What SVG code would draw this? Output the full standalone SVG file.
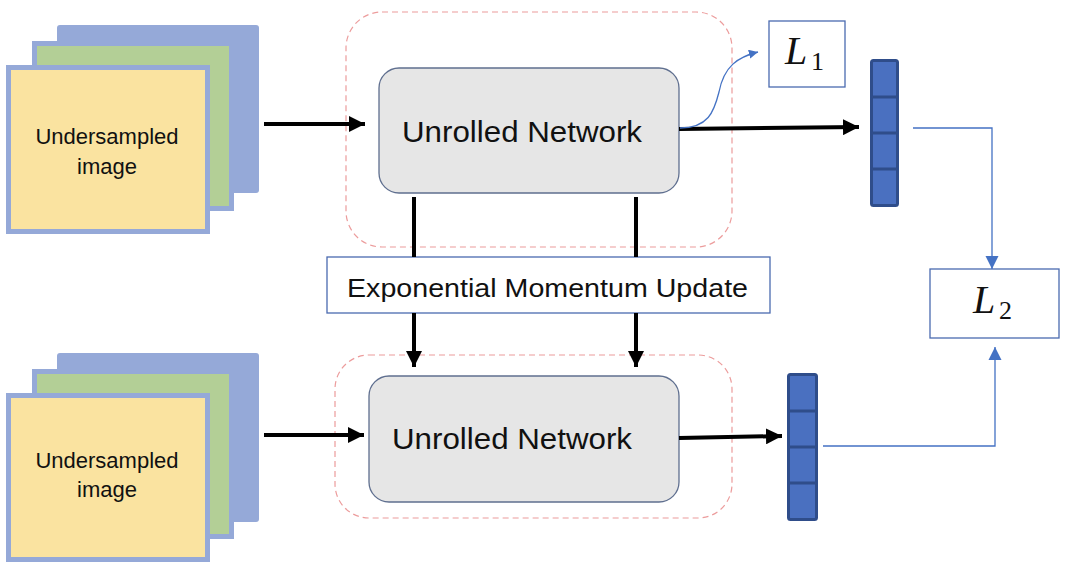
<svg xmlns="http://www.w3.org/2000/svg" width="1068" height="570" viewBox="0 0 1068 570">
<style>
.back{fill:#95A9D8;}
.mid{fill:#B3CF96;stroke:#95A9D8;stroke-width:5;}
.front{fill:#FAE3A0;stroke:#95A9D8;stroke-width:5;}
.lbl{font-family:"Liberation Sans",Arial,sans-serif;fill:#111;}
.net{fill:#E6E6E6;stroke:#5F6F8F;stroke-width:1.3;}
.dash{fill:none;stroke:#EC9C9C;stroke-width:1.2;stroke-dasharray:6 4;}
.box{fill:#fff;stroke:#4A6AB0;stroke-width:1.3;}
.vec{fill:#4A70C0;stroke:#2F4D8A;stroke-width:3;}
.blk{stroke:#000;stroke-width:4;fill:none;}
.blu{stroke:#4472C4;stroke-width:1.3;fill:none;}
.math{font-family:"Liberation Serif","Times New Roman",serif;fill:#111;}
</style>
<defs>
<marker id="ab" viewBox="0 0 10 10" refX="10" refY="5" markerWidth="4" markerHeight="4" orient="auto" markerUnits="strokeWidth">
<path d="M0,0 L10,5 L0,10 Z" fill="#000"/>
</marker>
<marker id="au" viewBox="0 0 10 10" refX="10" refY="5" markerWidth="10" markerHeight="11" orient="auto" markerUnits="strokeWidth">
<path d="M0,0 L10,5 L0,10 Z" fill="#4472C4"/>
</marker>
<marker id="as" viewBox="0 0 10 10" refX="10" refY="5" markerWidth="7" markerHeight="7" orient="auto" markerUnits="strokeWidth">
<path d="M0,0 L10,5 L0,10 Z" fill="#4472C4"/>
</marker>
</defs>

<g id="stack-top">
<rect class="back" x="57" y="25" width="202" height="168" rx="3"/>
<rect class="mid" x="34.5" y="43.5" width="197" height="165"/>
<rect class="front" x="8.5" y="67.5" width="199" height="164"/>
<text class="lbl" x="107" y="144" font-size="22" text-anchor="middle">Undersampled</text>
<text class="lbl" x="107" y="174" font-size="22" text-anchor="middle">image</text>
</g>

<g id="stack-bottom">
<rect class="back" x="57" y="353" width="202" height="169" rx="3"/>
<rect class="mid" x="34.5" y="371.5" width="197" height="165"/>
<rect class="front" x="8.5" y="395.5" width="199" height="164"/>
<text class="lbl" x="107" y="468" font-size="22" text-anchor="middle">Undersampled</text>
<text class="lbl" x="107" y="497" font-size="22" text-anchor="middle">image</text>
</g>

<g id="net-top">
<rect class="dash" x="346" y="12" width="386" height="235" rx="36"/>
<rect class="net" x="379" y="68" width="300" height="125" rx="20"/>
<text class="lbl" x="402" y="142" font-size="30" textLength="240" lengthAdjust="spacingAndGlyphs">Unrolled Network</text>
</g>

<g id="net-bottom">
<rect class="dash" x="335" y="355" width="397" height="163" rx="34"/>
<rect class="net" x="369" y="376" width="310" height="126" rx="20"/>
<text class="lbl" x="392" y="449" font-size="30" textLength="240" lengthAdjust="spacingAndGlyphs">Unrolled Network</text>
</g>

<g id="emu">
<rect class="box" x="327" y="257" width="443" height="56"/>
<text class="lbl" x="347" y="297" font-size="26" textLength="401" lengthAdjust="spacingAndGlyphs">Exponential Momentum Update</text>
</g>

<g id="vec-top">
<rect class="vec" x="871.5" y="60.5" width="26" height="145" rx="2"/>
<line x1="871.5" y1="97" x2="897.5" y2="97" stroke="#2F4D8A" stroke-width="3"/>
<line x1="871.5" y1="133" x2="897.5" y2="133" stroke="#2F4D8A" stroke-width="3"/>
<line x1="871.5" y1="169" x2="897.5" y2="169" stroke="#2F4D8A" stroke-width="3"/>
</g>

<g id="vec-bottom">
<rect class="vec" x="788.5" y="374.5" width="28" height="145" rx="2"/>
<line x1="788.5" y1="411" x2="816.5" y2="411" stroke="#2F4D8A" stroke-width="3"/>
<line x1="788.5" y1="447" x2="816.5" y2="447" stroke="#2F4D8A" stroke-width="3"/>
<line x1="788.5" y1="483" x2="816.5" y2="483" stroke="#2F4D8A" stroke-width="3"/>
</g>

<g id="L1">
<rect class="box" x="769" y="21" width="76" height="66"/>
<text class="math" x="785" y="64" font-size="40" font-style="italic">L</text>
<text class="math" x="811" y="70" font-size="26">1</text>
</g>

<g id="L2">
<rect class="box" x="930" y="269" width="129" height="69"/>
<text class="math" x="973" y="313" font-size="40" font-style="italic">L</text>
<text class="math" x="999" y="319" font-size="26">2</text>
</g>

<g id="connectors">
<line class="blk" x1="264" y1="124" x2="365" y2="124" marker-end="url(#ab)"/>
<line class="blk" x1="264" y1="435" x2="364" y2="435" marker-end="url(#ab)"/>
<line class="blk" x1="679" y1="129" x2="859" y2="127" marker-end="url(#ab)"/>
<line class="blk" x1="679" y1="438" x2="782" y2="436" marker-end="url(#ab)"/>
<line class="blk" x1="414" y1="197" x2="414" y2="257"/>
<line class="blk" x1="636" y1="197" x2="636" y2="257"/>
<line class="blk" x1="414" y1="313" x2="414" y2="367" marker-end="url(#ab)"/>
<line class="blk" x1="636" y1="313" x2="636" y2="367" marker-end="url(#ab)"/>
<path class="blu" d="M680,128 C708,128 714,112 719,92 C724,66 738,57 758,52" marker-end="url(#as)"/>
<polyline class="blu" points="913,128 992,128 992,269" marker-end="url(#au)"/>
<polyline class="blu" points="823,446 995,446 995,347" marker-end="url(#au)"/>
</g>
</svg>
